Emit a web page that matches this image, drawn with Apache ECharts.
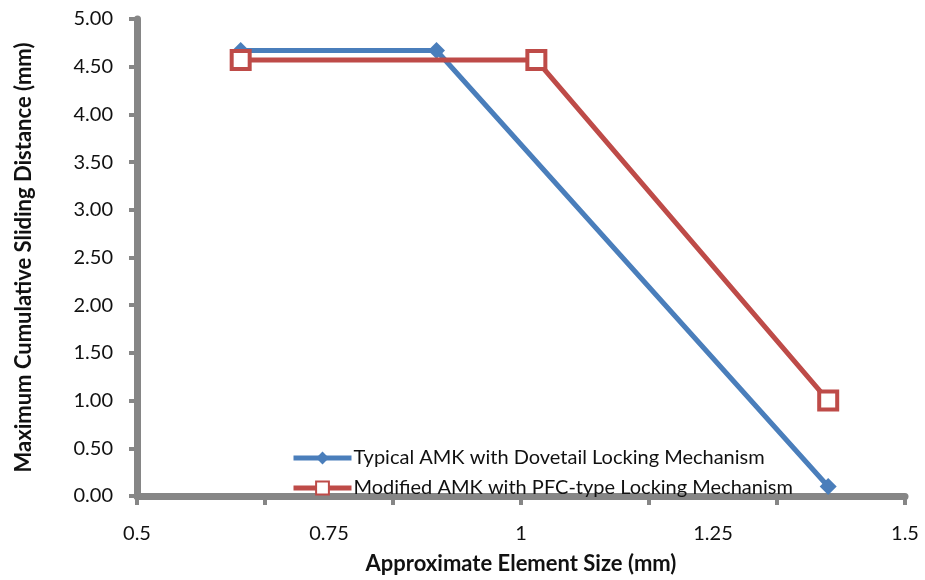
<!DOCTYPE html>
<html><head><meta charset="utf-8">
<script src="https://cdn.jsdelivr.net/npm/echarts@6/dist/echarts.min.js"></script>
<style>html,body{margin:0;padding:0;background:#fff}#c{width:925px;height:580px}</style>
</head><body><div id="c"></div>
<script>
const seriesNames = ['Typical AMK with Dovetail Locking Mechanism', 'Modified AMK with PFC-type Locking Mechanism'];
const typicalX = [0.635, 0.89, 1.4];
const typicalY = [4.67, 4.67, 0.1];
const modifiedX = [0.635, 1.02, 1.4];
const modifiedY = [4.57, 4.57, 1.0];
const xTitle = 'Approximate Element Size (mm)';
const yTitle = 'Maximum Cumulative Sliding Distance (mm)';

const FONT = 'Lato';
const gray = '#868686';
const chart = echarts.init(document.getElementById('c'));
chart.setOption({
  animation: false,
  textStyle: { fontFamily: FONT },
  grid: { left: 137, right: 20, top: 19, bottom: 84 },
  legend: {
    orient: 'vertical', left: 286, top: 443, itemWidth: 58, itemHeight: 16, itemGap: 10,
    textStyle: { fontSize: 20, color: '#111', fontFamily: FONT, padding: [0, 0, 0, -3] },
    data: seriesNames.map(n => ({ name: n, lineStyle: { width: 5 } }))
  },
  xAxis: [{
    type: 'value', min: 0.5, max: 1.5, interval: 0.25,
    axisLine: { show: true, onZero: false, lineStyle: { color: gray, width: 7 } },
    axisTick: { show: false },
    splitLine: { show: false },
    axisLabel: { fontSize: 20, color: '#111', margin: 28, formatter: v => String(v) },
    name: xTitle, nameLocation: 'middle', nameGap: 57,
    nameTextStyle: { fontSize: 22, fontWeight: 'bold', color: '#111' }
  }, {
    type: 'value', min: 0.5, max: 1.5, interval: 1/6, position: 'bottom',
    axisLine: { show: false },
    axisTick: { show: true, length: 9, lineStyle: { color: gray, width: 4 } },
    axisLabel: { show: false }, splitLine: { show: false }
  }],
  yAxis: {
    type: 'value', min: 0, max: 5, interval: 0.5,
    axisLine: { show: true, onZero: false, lineStyle: { color: gray, width: 7 } },
    axisTick: { show: true, length: 8, lineStyle: { color: gray, width: 4 } },
    splitLine: { show: false },
    axisLabel: { fontSize: 20, color: '#111', margin: 24, formatter: v => v.toFixed(2) },
    name: yTitle, nameLocation: 'middle', nameGap: 102, nameRotate: 90,
    nameTextStyle: { fontSize: 22, fontWeight: 'bold', color: '#111' }
  },
  series: [{
    name: seriesNames[0], type: 'line', xAxisIndex: 0,
    data: typicalX.map((x, i) => [x, typicalY[i]]),
    symbol: 'diamond', symbolSize: 17,
    lineStyle: { color: '#4A7EBB', width: 5 },
    itemStyle: { color: '#4A7EBB' }, z: 2
  }, {
    name: seriesNames[1], type: 'line', xAxisIndex: 0,
    data: modifiedX.map((x, i) => [x, modifiedY[i]]),
    symbol: 'rect', symbolSize: 18,
    lineStyle: { color: '#BE4B48', width: 5 },
    itemStyle: { color: '#fff', borderColor: '#BE4B48', borderWidth: 4 }, z: 3
  }]
});
</script></body></html>
